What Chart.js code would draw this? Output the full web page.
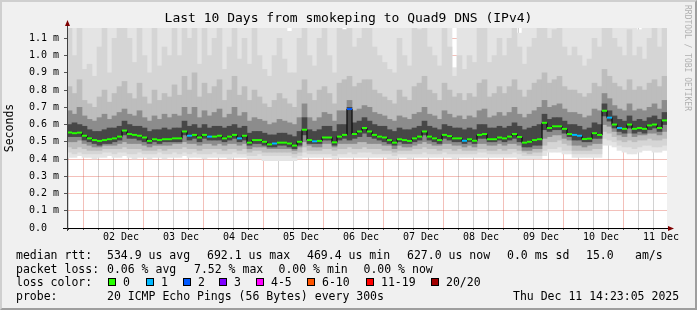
<!DOCTYPE html>
<html>
<head>
<meta charset="utf-8">
<title>Last 10 Days from smokeping to Quad9 DNS (IPv4)</title>
<script src="https://cdn.jsdelivr.net/npm/chart.js@4.4.1/dist/chart.umd.min.js"></script>
<style>
  html, body { margin: 0; padding: 0; background: #f0f0f0; }
  #graph { position: relative; width: 697px; height: 310px; overflow: hidden; background: #f0f0f0;
           font-family: 'DejaVu Sans Mono', monospace; color: #000; }
  #graph canvas { position: absolute; left: 0; top: 0; }
  .txt { position: absolute; font-size: 11.5px; line-height: 14px; white-space: pre; }
  .swatch { position: absolute; width: 6px; height: 6px; border: 1px solid #000; top: 278px; }
  #credit { position: absolute; left: 683px; top: 5px; width: 9px; font-size: 8px; line-height: 9px;
            writing-mode: vertical-rl; color: #b0b0b0; white-space: pre; }
  #frame { position: absolute; left: 0; top: 0; width: 697px; height: 310px; box-sizing: border-box;
           border: 2px solid; border-color: #cfcfcf #9e9e9e #9e9e9e #cfcfcf; pointer-events: none; }
</style>
</head>
<body>
<div id="graph">
  <canvas id="smoke" width="697" height="310"></canvas>

  <div class="txt" style="left:16px;top:248px">median rtt:</div>
  <div class="txt" style="left:107px;top:248px">534.9 us avg</div>
  <div class="txt" style="left:207px;top:248px">692.1 us max</div>
  <div class="txt" style="left:307px;top:248px">469.4 us min</div>
  <div class="txt" style="left:407px;top:248px">627.0 us now</div>
  <div class="txt" style="left:507px;top:248px">0.0 ms sd</div>
  <div class="txt" style="left:586px;top:248px">15.0</div>
  <div class="txt" style="left:635px;top:248px">am/s</div>

  <div class="txt" style="left:16px;top:261.5px">packet loss:</div>
  <div class="txt" style="left:107px;top:261.5px">0.06 % avg</div>
  <div class="txt" style="left:194px;top:261.5px">7.52 % max</div>
  <div class="txt" style="left:278.5px;top:261.5px">0.00 % min</div>
  <div class="txt" style="left:363.5px;top:261.5px">0.00 % now</div>

  <div class="txt" style="left:16px;top:275px">loss color:</div>
  <div id="lossRow"></div>

  <div class="txt" style="left:16px;top:288.5px">probe:</div>
  <div class="txt" style="left:107px;top:288.5px">20 ICMP Echo Pings (56 Bytes) every 300s</div>
  <div class="txt" style="left:513px;top:288.5px">Thu Dec 11 14:23:05 2025</div>

  <div id="credit">RRDTOOL / TOBI OETIKER</div>
  <div id="frame"></div>
</div>

<script>
// 120 columns of 2 hours, starting Thu Dec 01 14:23:05 (values in ms)
const medianRtt = [
  0.554, 0.550, 0.553, 0.535, 0.520, 0.510, 0.505, 0.510, 0.515, 0.520, 0.530, 0.565,
  0.545, 0.540, 0.535, 0.525, 0.505, 0.515, 0.510, 0.515, 0.515, 0.520, 0.520, 0.560,
  0.535, 0.540, 0.525, 0.540, 0.530, 0.530, 0.535, 0.520, 0.530, 0.540, 0.520, 0.535,
  0.495, 0.510, 0.510, 0.500, 0.485, 0.490, 0.495, 0.495, 0.490, 0.478, 0.500, 0.570,
  0.510, 0.503, 0.505, 0.525, 0.525, 0.497, 0.530, 0.540, 0.690, 0.545, 0.560, 0.580,
  0.560, 0.540, 0.530, 0.525, 0.510, 0.495, 0.515, 0.510, 0.505, 0.520, 0.530, 0.560,
  0.530, 0.520, 0.510, 0.540, 0.533, 0.520, 0.520, 0.506, 0.515, 0.506, 0.540, 0.545,
  0.515, 0.515, 0.525, 0.520, 0.530, 0.545, 0.528, 0.495, 0.500, 0.510, 0.515, 0.610,
  0.580, 0.590, 0.590, 0.575, 0.545, 0.540, 0.535, 0.516, 0.518, 0.550, 0.540, 0.680,
  0.640, 0.600, 0.580, 0.575, 0.600, 0.575, 0.580, 0.575, 0.595, 0.600, 0.580, 0.624
];

// lost pings (of 20) per column
const lostPings = [
  0, 0, 0, 0, 0, 0, 0, 0, 0, 0, 0, 0,
  0, 0, 0, 0, 0, 0, 0, 0, 0, 0, 0, 0,
  1, 0, 0, 0, 1, 0, 0, 0, 0, 0, 1, 0,
  0, 0, 0, 0, 0, 1, 0, 0, 0, 0, 0, 0,
  0, 1, 0, 0, 0, 0, 0, 0, 2, 0, 0, 0,
  0, 0, 0, 0, 0, 0, 0, 0, 0, 0, 0, 0,
  0, 0, 0, 0, 0, 0, 0, 1, 0, 0, 0, 0,
  0, 0, 0, 0, 0, 0, 0, 0, 0, 0, 0, 0,
  0, 0, 0, 0, 0, 1, 1, 0, 0, 0, 0, 0,
  1, 0, 1, 0, 0, 0, 0, 0, 0, 0, 0, 0
];

// smoke: sorted ping spread, outer (1) to inner (5) pairs
const smokeBot1 = [
  .41, .41, .42, .41, .41, .40, .41, .41, .42, .41, .41, .42,
  .41, .40, .41, .41, .40, .41, .41, .40, .41, .41, .41, .42,
  .41, .41, .41, .40, .41, .41, .41, .41, .40, .41, .41, .41,
  .40, .40, .40, .39, .39, .39, .39, .39, .39, .39, .40, .41,
  .41, .41, .41, .41, .41, .40, .41, .41, .41, .41, .41, .41,
  .41, .41, .41, .41, .40, .40, .41, .41, .40, .41, .41, .41,
  .41, .41, .41, .41, .41, .40, .41, .41, .41, .41, .41, .41,
  .41, .41, .41, .41, .41, .41, .40, .40, .40, .40, .40, .42,
  .44, .44, .44, .43, .43, .41, .41, .41, .41, .41, .41, .48,
  .48, .47, .45, .44, .43, .43, .44, .45, .45, .44, .44, .45
];
const smokeBot2 = [
  .44, .43, .44, .43, .43, .43, .43, .44, .44, .43, .44, .44,
  .43, .43, .44, .43, .43, .43, .44, .43, .43, .44, .43, .44,
  .43, .44, .43, .43, .43, .44, .43, .43, .43, .44, .43, .43,
  .42, .42, .43, .42, .42, .42, .42, .42, .42, .41, .42, .44,
  .43, .43, .43, .43, .43, .42, .43, .43, .44, .43, .44, .44,
  .44, .43, .43, .43, .43, .42, .43, .43, .43, .43, .43, .44,
  .43, .43, .43, .44, .43, .43, .43, .43, .43, .43, .44, .44,
  .43, .43, .43, .43, .43, .44, .43, .42, .42, .42, .42, .45,
  .46, .46, .47, .45, .45, .43, .43, .43, .43, .43, .43, .52,
  .51, .50, .48, .47, .47, .46, .47, .48, .48, .47, .47, .48
];
const smokeBot3 = [
  .47, .46, .47, .46, .45, .45, .45, .46, .46, .46, .46, .47,
  .46, .46, .46, .45, .45, .45, .46, .45, .46, .46, .46, .47,
  .46, .46, .45, .46, .46, .46, .46, .45, .46, .46, .45, .46,
  .44, .45, .45, .44, .44, .44, .44, .44, .44, .43, .44, .47,
  .45, .45, .45, .46, .46, .45, .46, .46, .47, .46, .46, .47,
  .46, .46, .46, .45, .45, .44, .45, .45, .45, .46, .46, .47,
  .46, .46, .45, .46, .46, .45, .46, .45, .45, .45, .46, .46,
  .45, .45, .46, .45, .46, .46, .45, .44, .43, .44, .44, .48,
  .50, .50, .51, .49, .48, .45, .45, .45, .45, .46, .46, .56,
  .55, .53, .51, .50, .51, .50, .51, .51, .52, .51, .51, .52
];
const smokeBot4 = [
  .50, .50, .51, .49, .48, .47, .47, .48, .48, .48, .49, .50,
  .49, .49, .49, .48, .47, .48, .48, .48, .48, .49, .49, .50,
  .49, .49, .48, .49, .49, .48, .49, .48, .49, .49, .48, .49,
  .46, .47, .47, .47, .46, .46, .46, .46, .46, .45, .47, .50,
  .48, .47, .47, .49, .49, .47, .49, .49, .49, .49, .50, .50,
  .49, .49, .49, .48, .48, .46, .48, .47, .47, .48, .49, .50,
  .49, .48, .48, .49, .49, .48, .48, .47, .48, .47, .49, .49,
  .48, .48, .49, .48, .49, .49, .48, .45, .45, .46, .46, .52,
  .53, .54, .54, .52, .51, .48, .48, .47, .48, .49, .49, .60,
  .59, .56, .54, .53, .55, .53, .54, .54, .55, .55, .54, .56
];
const smokeBot5 = [
  .53, .53, .53, .51, .50, .49, .48, .49, .49, .50, .51, .54,
  .52, .52, .51, .50, .49, .50, .49, .50, .50, .50, .50, .54,
  .51, .52, .50, .52, .51, .51, .51, .50, .51, .52, .50, .51,
  .48, .49, .49, .48, .47, .47, .48, .48, .47, .46, .48, .54,
  .49, .49, .49, .51, .51, .48, .51, .52, .51, .52, .53, .55,
  .53, .52, .51, .50, .49, .48, .50, .49, .49, .50, .51, .54,
  .51, .50, .49, .52, .51, .50, .50, .49, .50, .49, .52, .52,
  .50, .50, .51, .50, .51, .52, .50, .47, .47, .48, .48, .57,
  .56, .57, .57, .55, .53, .51, .51, .50, .50, .52, .52, .65,
  .62, .58, .56, .55, .58, .55, .56, .55, .57, .58, .56, .60
];
const smokeTop5 = [
  .60, .61, .60, .59, .57, .56, .56, .57, .58, .58, .59, .62,
  .60, .59, .59, .58, .56, .57, .57, .58, .57, .58, .58, .62,
  .59, .60, .58, .60, .58, .59, .59, .58, .59, .60, .58, .59,
  .55, .56, .56, .55, .54, .54, .55, .55, .54, .53, .56, .64,
  .57, .56, .57, .59, .59, .56, .60, .60, .70, .61, .62, .64,
  .62, .60, .59, .59, .57, .56, .58, .57, .57, .58, .59, .62,
  .59, .58, .57, .60, .59, .58, .58, .57, .58, .57, .60, .60,
  .58, .58, .59, .58, .59, .61, .59, .57, .58, .59, .60, .66,
  .63, .64, .64, .62, .60, .60, .59, .57, .58, .61, .60, .72,
  .68, .65, .63, .62, .65, .62, .63, .62, .64, .65, .63, .67
];
const smokeTop4 = [
  .68, .66, .70, .65, .63, .62, .64, .66, .63, .65, .67, .69,
  .66, .65, .68, .64, .62, .65, .63, .66, .64, .66, .65, .70,
  .66, .70, .64, .68, .65, .67, .69, .64, .66, .70, .65, .67,
  .62, .64, .63, .62, .60, .61, .63, .62, .61, .60, .64, .72,
  .64, .62, .64, .67, .66, .62, .68, .68, .74, .68, .69, .71,
  .70, .67, .66, .65, .63, .62, .65, .64, .63, .66, .67, .70,
  .66, .65, .63, .68, .66, .64, .65, .63, .65, .64, .68, .69,
  .64, .65, .67, .65, .67, .70, .66, .64, .66, .68, .70, .74,
  .70, .71, .72, .69, .67, .67, .66, .64, .65, .69, .68, .78,
  .75, .71, .69, .68, .72, .68, .69, .68, .70, .72, .69, .74
];
const smokeTop3 = [
  .82, .78, .86, .74, .72, .70, .76, .80, .73, .78, .82, .85,
  .78, .75, .84, .76, .72, .80, .74, .78, .76, .83, .77, .88,
  .80, .90, .76, .84, .78, .82, .86, .74, .80, .88, .77, .82,
  .74, .80, .76, .72, .70, .74, .78, .75, .72, .70, .80, .86,
  .78, .74, .80, .82, .78, .72, .84, .86, .88, .82, .84, .86,
  .86, .80, .78, .76, .74, .72, .80, .76, .74, .82, .84, .88,
  .80, .78, .74, .84, .80, .76, .78, .74, .78, .76, .84, .86,
  .76, .78, .82, .78, .82, .86, .80, .76, .80, .84, .86, .90,
  .84, .86, .88, .82, .80, .80, .78, .76, .78, .84, .82, .92,
  .88, .84, .82, .80, .86, .80, .82, .80, .84, .86, .82, .88
];
const smokeTop2 = [
  1.20, 1.00, 1.20, 0.92, 0.95, 0.88, 1.05, 1.20, 0.90, 1.10, 1.20, 1.20,
  1.10, 0.96, 1.20, 1.00, 0.90, 1.20, 0.94, 1.05, 1.00, 1.20, 1.00, 1.20,
  1.10, 1.20, 0.95, 1.20, 1.00, 1.10, 1.20, 0.92, 1.05, 1.20, 0.98, 1.10,
  0.95, 1.20, 1.00, 0.92, 0.88, 1.00, 1.10, 0.98, 0.90, 0.90, 1.10, 1.20,
  1.00, 0.94, 1.10, 1.20, 1.00, 0.90, 1.20, 1.15, 1.20, 1.05, 1.10, 1.20,
  1.20, 1.05, 1.00, 0.96, 0.92, 0.90, 1.10, 1.00, 0.94, 1.20, 1.15, 1.20,
  1.05, 1.00, 0.94, 1.20, 1.05, 0.88, 1.00, 0.92, 1.00, 0.96, 1.20, 1.20,
  0.96, 1.00, 1.10, 1.00, 1.10, 1.20, 1.05, 0.95, 1.05, 1.10, 1.20, 1.20,
  1.10, 1.15, 1.20, 1.05, 1.00, 1.05, 1.00, 0.94, 0.98, 1.10, 1.05, 1.20,
  1.20, 1.10, 1.05, 1.00, 1.15, 1.00, 1.05, 0.98, 1.10, 1.20, 1.05, 1.20
];
const smokeTop1 = [
  1.20, 1.20, 1.20, 1.20, 1.20, 1.20, 1.20, 1.20, 1.20, 1.20, 1.20, 1.20,
  1.20, 1.20, 1.20, 1.20, 1.20, 1.20, 1.20, 1.20, 1.20, 1.20, 1.20, 1.20,
  1.20, 1.14, 1.20, 1.20, 1.20, 1.20, 1.20, 1.20, 1.20, 1.20, 1.20, 1.20,
  1.20, 1.20, 1.20, 1.20, 1.20, 1.20, 1.20, 1.20, 1.14, 1.20, 1.20, 1.20,
  1.20, 1.20, 1.20, 1.20, 1.20, 1.20, 1.20, 1.15, 1.20, 1.20, 1.20, 1.20,
  1.20, 1.20, 1.20, 1.20, 1.20, 1.20, 1.20, 1.20, 1.20, 1.20, 1.20, 1.20,
  1.20, 1.20, 1.20, 1.20, 1.20, 0.93, 1.20, 1.20, 1.20, 1.20, 1.20, 1.20,
  1.20, 1.20, 1.20, 1.20, 1.20, 1.13, 1.13, 1.20, 1.20, 1.20, 1.20, 1.20,
  1.20, 1.20, 1.20, 1.20, 1.20, 1.20, 1.20, 1.20, 1.20, 1.20, 1.20, 1.20,
  1.20, 1.20, 1.20, 1.20, 1.20, 1.20, 1.15, 1.20, 1.20, 1.20, 1.20, 1.20
];

const dayLabels = ['02 Dec', '03 Dec', '04 Dec', '05 Dec', '06 Dec', '07 Dec', '08 Dec', '09 Dec', '10 Dec', '11 Dec'];
const yTickValues = [0, 0.1, 0.2, 0.3, 0.4, 0.5, 0.6, 0.7, 0.8, 0.9, 1.0, 1.1];
const yTickLabels = ['0.0  ', '0.1 m', '0.2 m', '0.3 m', '0.4 m', '0.5 m', '0.6 m', '0.7 m', '0.8 m', '0.9 m', '1.0 m', '1.1 m'];
const lossLabels = ['0', '1', '2', '3', '4-5', '6-10', '11-19', '20/20'];
const lossColors = ['#26ff00', '#00b8ff', '#0059ff', '#7e00ff', '#ff00ff', '#ff5500', '#ff0000', '#a10000'];

// axis settings (hours since start of graph)
const spanHours = 240;
const columnHours = 2;
const firstMidnight = 9.615; // Dec 02 00:00
const gridHours = [];
for (let h = firstMidnight - 6; h < spanHours; h += 6) gridHours.push(h);

const majorGrid = 'rgba(222, 80, 64, 0.36)';
const minorGrid = 'rgba(143, 143, 143, 0.4)';
const smokeShades = ['#e4e4e4', '#d5d5d5', '#bdbdbd', '#8c8c8c', '#474747'];

function lossIndex(n) {
    if (n <= 3) return n;
    if (n <= 5) return 4;
    if (n <= 10) return 5;
    if (n <= 19) return 6;
    return 7;
}

// loss colour legend row
const lossRow = document.getElementById('lossRow');
const swatchX = [108, 146, 183, 219, 256, 307, 366, 431];
lossLabels.forEach((label, i) => {
    const box = document.createElement('div');
    box.className = 'swatch';
    box.style.left = swatchX[i] + 'px';
    box.style.background = lossColors[i];
    lossRow.appendChild(box);
    const txt = document.createElement('div');
    txt.className = 'txt';
    txt.style.left = (swatchX[i] + 15) + 'px';
    txt.style.top = '275px';
    txt.textContent = label;
    lossRow.appendChild(txt);
});

const hours = medianRtt.map((_, i) => columnHours * i + columnHours / 2);
const band = (lo, hi) => lo.map((v, i) => ({ x: hours[i], y: [v, hi[i]] }));
const smokeBand = (lo, hi, shade) => ({
    type: 'bar',
    data: band(lo, hi),
    backgroundColor: shade,
    borderWidth: 0,
    barPercentage: 1,
    categoryPercentage: 1,
    grouped: false
});

// canvas white plot area, axes with arrows
const rrdFrame = {
    id: 'rrdFrame',
    beforeDraw(chart) {
        const { ctx, chartArea: a } = chart;
        ctx.save();
        ctx.fillStyle = '#ffffff';
        ctx.fillRect(a.left, a.top, a.right - a.left, a.bottom - a.top);
        ctx.restore();
    },
    afterDraw(chart) {
        const { ctx, chartArea: a } = chart;
        ctx.save();
        ctx.lineWidth = 1;
        ctx.strokeStyle = '#000';
        ctx.beginPath();
        ctx.moveTo(a.left - 4, a.bottom + 0.5);
        ctx.lineTo(a.right + 2, a.bottom + 0.5);
        ctx.stroke();
        ctx.strokeStyle = '#404040';
        ctx.beginPath();
        ctx.moveTo(a.left + 0.5, a.bottom + 3);
        ctx.lineTo(a.left + 0.5, a.top - 4);
        ctx.stroke();
        ctx.fillStyle = '#7f0000';
        ctx.beginPath();
        ctx.moveTo(a.left + 0.5, a.top - 8);
        ctx.lineTo(a.left - 2, a.top - 2);
        ctx.lineTo(a.left + 3, a.top - 2);
        ctx.closePath();
        ctx.fill();
        ctx.beginPath();
        ctx.moveTo(a.right + 7, a.bottom + 0.5);
        ctx.lineTo(a.right + 1, a.bottom - 2);
        ctx.lineTo(a.right + 1, a.bottom + 3);
        ctx.closePath();
        ctx.fill();
        ctx.restore();
    }
};

Chart.defaults.font.family = "'DejaVu Sans Mono', monospace";
Chart.defaults.color = '#000';

new Chart(document.getElementById('smoke'), {
    type: 'bar',
    data: {
        datasets: [
            {
                type: 'line',
                data: medianRtt.map((v, i) => ({ x: hours[i], y: v })),
                showLine: false,
                pointStyle: 'line',
                pointRadius: 2.5,
                pointBorderWidth: 2,
                pointBorderColor: lostPings.map(n => lossColors[lossIndex(n)]),
                pointBackgroundColor: 'transparent'
            },
            {
                type: 'line',
                data: medianRtt.map((v, i) => ({ x: hours[i], y: v })),
                stepped: 'middle',
                borderColor: '#000',
                borderWidth: 1,
                pointRadius: 0
            },
            smokeBand(smokeBot5, smokeTop5, smokeShades[4]),
            smokeBand(smokeBot4, smokeTop4, smokeShades[3]),
            smokeBand(smokeBot3, smokeTop3, smokeShades[2]),
            smokeBand(smokeBot2, smokeTop2, smokeShades[1]),
            smokeBand(smokeBot1, smokeTop1, smokeShades[0])
        ]
    },
    options: {
        responsive: false,
        devicePixelRatio: 1,
        animation: false,
        events: [],
        layout: { padding: 0 },
        plugins: {
            legend: { display: false },
            tooltip: { enabled: false },
            title: {
                display: true,
                text: 'Last 10 Days from smokeping to Quad9 DNS (IPv4)',
                color: '#000',
                font: { size: 13, weight: 'normal' },
                padding: { top: 10.5, bottom: 1.9 }
            }
        },
        scales: {
            x: {
                type: 'linear',
                min: 0,
                max: spanHours,
                offset: false,
                z: 1,
                afterFit: s => { s.height = 82; },
                afterBuildTicks: s => { s.ticks = gridHours.map(v => ({ value: v })); },
                border: { display: false },
                grid: {
                    color: c => (c.index % 4 === 1 ? majorGrid : minorGrid),
                    borderDash: [1, 1],
                    lineWidth: 1,
                    tickLength: 2,
                    tickColor: '#555',
                    tickBorderDash: []
                },
                ticks: {
                    autoSkip: false,
                    maxRotation: 0,
                    padding: 1.5,
                    font: { size: 10 },
                    color: '#000',
                    callback: (v, i) => (i % 4 === 3 ? dayLabels[(i - 3) / 4] : '')
                }
            },
            y: {
                min: 0,
                max: 1.16,
                z: 1,
                afterFit: s => { s.width = 67; },
                afterBuildTicks: s => { s.ticks = yTickValues.map(v => ({ value: v })); },
                border: { display: false },
                grid: {
                    color: majorGrid,
                    borderDash: [1, 1],
                    lineWidth: 1,
                    tickLength: 3,
                    tickColor: '#555',
                    tickBorderDash: []
                },
                ticks: {
                    padding: 5,
                    font: { size: 10 },
                    color: '#000',
                    callback: (v, i) => yTickLabels[i]
                },
                title: {
                    display: true,
                    text: 'Seconds',
                    color: '#000',
                    font: { size: 11.5 },
                    padding: { top: 3.5, bottom: 0 }
                }
            },
            yr: {
                type: 'linear',
                position: 'right',
                min: 0,
                max: 1,
                afterFit: s => { s.width = 30; },
                border: { display: false },
                grid: { display: false, drawTicks: false },
                ticks: { display: false }
            }
        }
    },
    plugins: [rrdFrame]
});
</script>
</body>
</html>
